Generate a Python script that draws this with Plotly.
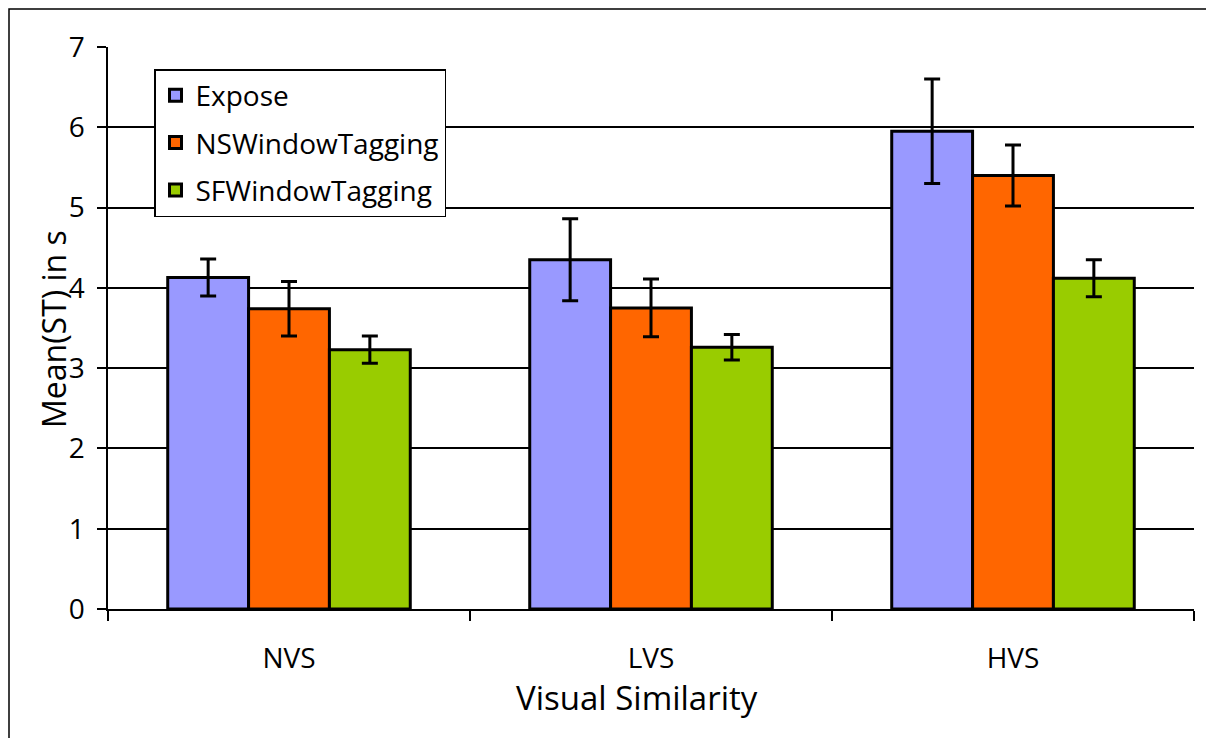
import plotly.graph_objects as go

categories = ["NVS", "LVS", "HVS"]
series_names = ["Expose", "NSWindowTagging", "SFWindowTagging"]
expose = [4.13, 4.35, 5.95]
expose_err = [0.23, 0.51, 0.65]
ns = [3.74, 3.75, 5.40]
ns_err = [0.34, 0.36, 0.38]
sf = [3.23, 3.26, 4.12]
sf_err = [0.17, 0.16, 0.23]
colors = ["#9999FF", "#FF6600", "#99CC00"]
y_ticks = [0, 1, 2, 3, 4, 5, 6, 7]

OFF = 8  # page body margin
W, H = 1214, 738
L, R, T, B = 108 - OFF, 1194 - OFF, 47 - OFF, 609 - OFF

fig = go.Figure()
for i, (name, vals, errs) in enumerate(zip(series_names, [expose, ns, sf], [expose_err, ns_err, sf_err])):
    fig.add_trace(go.Bar(
        x=categories, y=vals, name=name, legendgroup=name,
        marker=dict(color=colors[i], line=dict(color="black", width=3)),
        error_y=dict(type="data", array=errs, visible=True, color="black", thickness=3, width=8),
    ))

def px_x(p):
    return (p - OFF - L) / (R - L)

def px_y(p):
    return (B - (p - OFF)) / (B - T)

FONT = "'Open Sans', Lato, sans-serif"

fig.update_layout(
    width=W, height=H,
    margin=dict(l=L, r=W - R, t=T, b=H - B),
    paper_bgcolor="white", plot_bgcolor="white",
    barmode="group", bargap=0.33, bargroupgap=0,
    font=dict(family=FONT, color="black"),
    showlegend=True,
    legend=dict(
        x=px_x(154), y=px_y(69), xanchor="left", yanchor="top",
        bgcolor="white", bordercolor="black", borderwidth=1.5,
        font=dict(size=28, color="black", family=FONT), tracegroupgap=8,
        traceorder="grouped", itemwidth=30,
    ),
    xaxis=dict(
        showline=True, linecolor="black", linewidth=1.5,
        ticks="outside", tickson="boundaries", ticklen=10, tickcolor="black", tickwidth=1.5,
        tickfont=dict(size=28, color="black", family=FONT), showgrid=False,
        ticklabelstandoff=24,
    ),
    yaxis=dict(
        range=[0, 7], tickvals=y_ticks, showline=True, linecolor="black", linewidth=1.5,
        ticks="outside", ticklen=9, tickcolor="black", tickwidth=1.5,
        tickfont=dict(size=28, color="black", family=FONT),
        showgrid=True, gridcolor="black", gridwidth=1.5, zeroline=False,
        ticklabelstandoff=7,
    ),
    annotations=[
        dict(text="Visual Similarity", xref="paper", yref="paper", x=px_x(637), y=px_y(697),
             showarrow=False, font=dict(size=33, color="black", family=FONT),
             xanchor="center", yanchor="middle"),
        dict(text="Mean(ST) in s", xref="paper", yref="paper", x=px_x(53), y=px_y(329),
             showarrow=False, textangle=-90, font=dict(size=32, color="black", family=FONT),
             xanchor="center", yanchor="middle"),
    ],
    shapes=[
        dict(type="rect", xref="paper", yref="paper",
             x0=px_x(OFF + 1), x1=px_x(1212), y0=px_y(760), y1=px_y(OFF + 1),
             line=dict(color="black", width=1.5), fillcolor="rgba(0,0,0,0)", layer="below"),
    ],
)

fig.write_html("out.html")
